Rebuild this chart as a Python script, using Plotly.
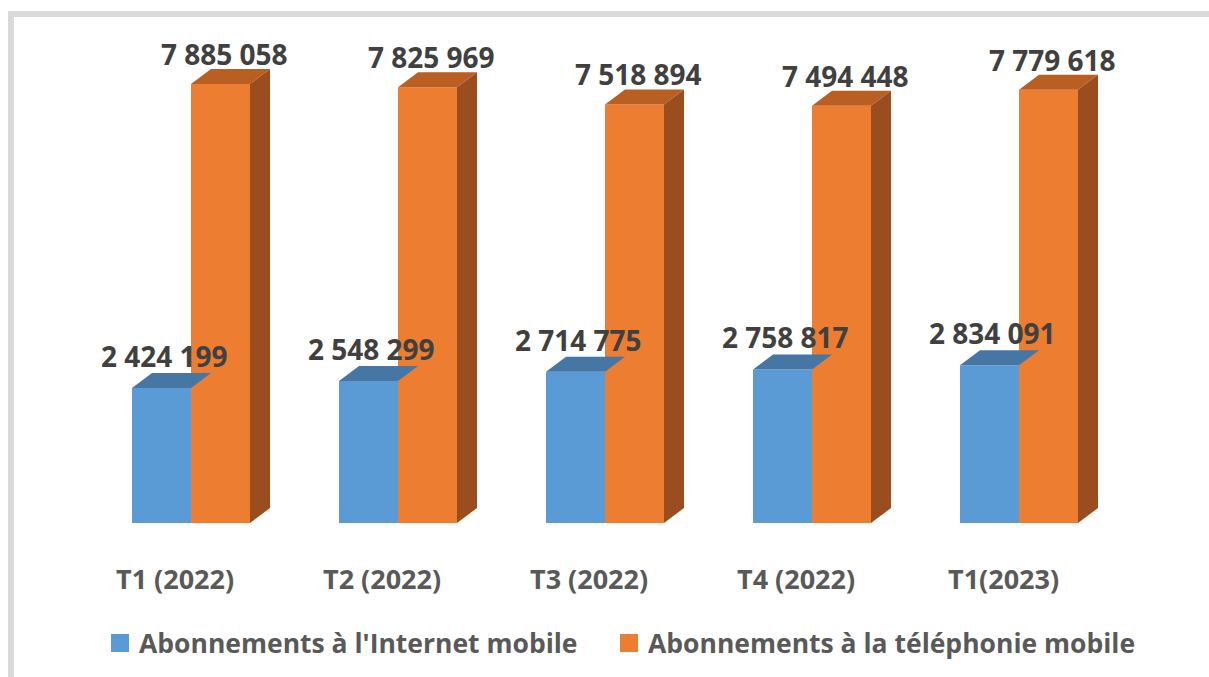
import plotly.graph_objects as go

# trimestres et abonnements
trimestres = ["T1 (2022)", "T2 (2022)", "T3 (2022)", "T4 (2022)", "T1(2023)"]
internet_mobile = [2424199, 2548299, 2714775, 2758817, 2834091]
telephonie_mobile = [7885058, 7825969, 7518894, 7494448, 7779618]
labels_internet = ["2 424 199", "2 548 299", "2 714 775", "2 758 817", "2 834 091"]
labels_telephonie = ["7 885 058", "7 825 969", "7 518 894", "7 494 448", "7 779 618"]
series = ["Abonnements à l'Internet mobile", "Abonnements à la téléphonie mobile"]

# couleurs (face avant, dessus, côté)
BLEU, BLEU_HAUT = "#5B9BD5", "#4676A3"
ORANGE, ORANGE_HAUT, ORANGE_COTE = "#ED7D31", "#B95F22", "#9A4D1E"

W, H = 1209, 677
px_x = 207.0                 # pixels par catégorie
px_y = 439.0 / 7885058       # pixels par abonné
x0 = -191 / px_x
y0 = -(H - 523) / px_y
largeur = 59 / px_x          # largeur d'une barre
dx = 20 / px_x               # profondeur 3D
dy = 15 / px_y

x = list(range(len(trimestres)))

fig = go.Figure()

fig.add_trace(go.Bar(x=x, y=internet_mobile, width=largeur, offset=-largeur, name=series[0],
                     marker=dict(color=BLEU, line=dict(width=0)), showlegend=False))

# dessus des barres bleues
bx, by = [], []
for i, v in zip(x, internet_mobile):
    a = i - largeur
    bx += [a, i, i + dx, a + dx, a, None]
    by += [v, v, v + dy, v + dy, v, None]
fig.add_trace(go.Scatter(x=bx, y=by, fill="toself", fillcolor=BLEU_HAUT, mode="lines",
                         line=dict(width=0), hoverinfo="skip", showlegend=False))

fig.add_trace(go.Bar(x=x, y=telephonie_mobile, width=largeur, offset=0, name=series[1],
                     marker=dict(color=ORANGE, line=dict(width=0)), showlegend=False))

# dessus et côté des barres orange
tx, ty, sx, sy = [], [], [], []
for i, v in zip(x, telephonie_mobile):
    b = i + largeur
    tx += [i, b, b + dx, i + dx, i, None]
    ty += [v, v, v + dy, v + dy, v, None]
    sx += [b, b + dx, b + dx, b, b, None]
    sy += [0, dy, v + dy, v, 0, None]
fig.add_trace(go.Scatter(x=tx, y=ty, fill="toself", fillcolor=ORANGE_HAUT, mode="lines",
                         line=dict(width=0), hoverinfo="skip", showlegend=False))
fig.add_trace(go.Scatter(x=sx, y=sy, fill="toself", fillcolor=ORANGE_COTE, mode="lines",
                         line=dict(width=0), hoverinfo="skip", showlegend=False))

police = "Open Sans"
for i, v, t in zip(x, internet_mobile, labels_internet):
    fig.add_annotation(x=i - largeur / 2 + 0.015, y=v + dy, text=t, showarrow=False,
                       yanchor="middle", yshift=17,
                       font=dict(family=police, size=28, color="#404040", weight="bold"))
for i, v, t in zip(x, telephonie_mobile, labels_telephonie):
    fig.add_annotation(x=i + largeur / 2 + 0.02, y=v + dy, text=t, showarrow=False,
                       yanchor="middle", yshift=15,
                       font=dict(family=police, size=28, color="#404040", weight="bold"))
for i, t in zip(x, trimestres):
    fig.add_annotation(x=i, y=1 - 578 / H, yref="paper", text=t, showarrow=False,
                       xshift=-16, yanchor="middle",
                       font=dict(family=police, size=27, color="#595959", weight="bold"))

# légende faite à la main (carrés de 18 px)
for nom, couleur, gauche in zip(series, [BLEU, ORANGE], [111, 620]):
    fig.add_shape(type="rect", xref="paper", yref="paper",
                  x0=gauche / W, x1=(gauche + 18) / W, y0=1 - 652 / H, y1=1 - 634 / H,
                  fillcolor=couleur, line=dict(width=0))
    fig.add_annotation(x=(gauche + 26) / W, y=1 - 643 / H, xref="paper", yref="paper",
                       text=nom, showarrow=False, xanchor="left", yanchor="middle",
                       font=dict(family=police, size=26.5, color="#595959", weight="bold"))

# cadre gris (haut et gauche)
fig.add_shape(type="line", xref="paper", yref="paper", x0=11 / W, x1=1, y0=1 - 14 / H, y1=1 - 14 / H,
              line=dict(color="#D9D9D9", width=6), layer="below")
fig.add_shape(type="line", xref="paper", yref="paper", x0=11 / W, x1=11 / W, y0=0, y1=1 - 11 / H,
              line=dict(color="#D9D9D9", width=6), layer="below")

fig.update_layout(
    width=W, height=H,
    margin=dict(l=0, r=0, t=0, b=0),
    paper_bgcolor="white", plot_bgcolor="white",
    xaxis=dict(visible=False, range=[x0, x0 + W / px_x]),
    yaxis=dict(visible=False, range=[y0, y0 + H / px_y]),
    showlegend=False,
)

fig.write_html("out.html", config={"displayModeBar": False},
               post_script="document.body.style.margin='0';")
